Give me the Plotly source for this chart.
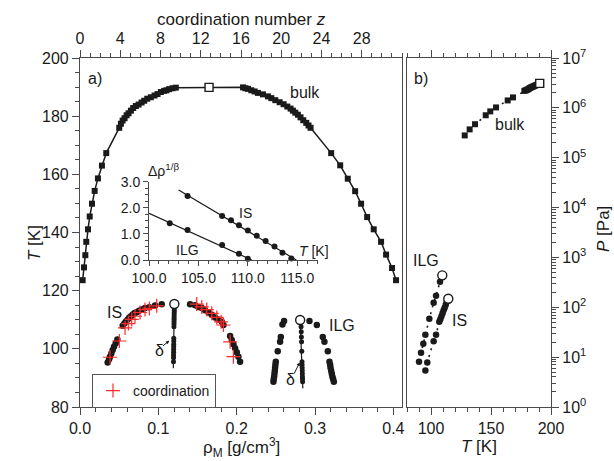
import plotly.graph_objects as go

# ---------------- panel a: bulk liquid-vapour coexistence ----------------
rho_bulk_left = [0.0034, 0.0051, 0.0068, 0.0080, 0.0102, 0.0124, 0.0153, 0.0187, 0.0229, 0.0280,
                 0.0335, 0.0501, 0.0522, 0.0544, 0.0569, 0.0595, 0.0620, 0.0650, 0.0679, 0.0713,
                 0.0748, 0.0786, 0.0820, 0.0858, 0.0904, 0.0951, 0.0990, 0.1032, 0.1074, 0.1104,
                 0.1138, 0.1181, 0.1223]
T_bulk_left = [123.6, 128.0, 132.2, 136.8, 141.1, 145.5, 149.9, 154.3, 158.6, 163.0,
               167.3, 176.0, 177.4, 178.5, 179.3, 180.3, 181.0, 181.9, 182.8, 183.5,
               184.0, 184.7, 185.3, 186.0, 186.5, 187.1, 187.6, 188.3, 188.7, 188.9,
               189.3, 189.6, 189.8]
rho_bulk_right = [0.2081, 0.2111, 0.2144, 0.2187, 0.2229, 0.2271, 0.2335, 0.2399, 0.2442, 0.2493,
                  0.2548, 0.2599, 0.2646, 0.2688, 0.2718, 0.2748, 0.2781, 0.2815, 0.2850, 0.2888,
                  0.2917, 0.2943, 0.3206, 0.3321, 0.3418, 0.3512, 0.3588, 0.3665, 0.3749, 0.3843,
                  0.3907, 0.3983, 0.4034]
T_bulk_right = [189.9, 189.6, 189.4, 188.9, 188.5, 188.0, 187.5, 186.8, 186.2, 185.5,
                184.8, 184.1, 183.3, 182.6, 181.9, 181.2, 180.5, 179.6, 178.6, 177.7,
                176.8, 176.0, 167.3, 163.1, 158.5, 154.2, 149.9, 145.3, 141.1, 136.8,
                132.4, 127.8, 123.6]
rho_bulk_crit = [0.1647]
T_bulk_crit = [189.9]

# ---------------- panel a: IS coexistence ----------------
rho_is_left = [0.0353, 0.0371, 0.0383, 0.0400, 0.0417, 0.0434, 0.0456, 0.0477,
               0.0545, 0.0566, 0.0587, 0.0609, 0.0630, 0.0651, 0.0673, 0.0698, 0.0724,
               0.0754, 0.0788, 0.0830, 0.0885, 0.0958, 0.1043]
T_is_left = [95.3, 96.4, 97.3, 98.4, 99.6, 100.7, 101.9, 103.2,
             107.9, 108.7, 109.4, 110.1, 110.8, 111.2, 111.8, 112.3, 112.6,
             113.1, 113.5, 114.0, 114.3, 114.9, 115.3]
rho_is_right = [0.1405, 0.1469, 0.1511, 0.1554, 0.1596, 0.1639, 0.1682, 0.1724, 0.1767,
                0.1810, 0.1831, 0.1916, 0.1937, 0.1958, 0.1980, 0.2001, 0.2022, 0.2043]
T_is_right = [115.3, 115.0, 114.4, 114.0, 113.3, 112.5, 111.7, 110.8, 110.1,
              109.3, 108.2, 104.4, 103.0, 101.6, 100.2, 98.8, 97.3, 95.6]
rho_is_diam = [0.1203, 0.1203, 0.1202, 0.1202, 0.1201, 0.1201, 0.1200, 0.1200, 0.1199,
               0.1197, 0.1197, 0.1196, 0.1196, 0.1195, 0.1195, 0.1194, 0.1194, 0.1193]
T_is_diam = [113.9, 113.1, 112.4, 111.6, 110.8, 110.1, 109.3, 108.5, 107.6,
             103.6, 102.7, 101.6, 100.7, 99.8, 98.8, 97.9, 96.9, 95.6]
rho_is_diam_line = [0.1204, 0.1191]
T_is_diam_line = [115.4, 93.3]
rho_is_crit = [0.1204]
T_is_crit = [115.4]

# densities obtained from the coordination number
rho_coord = [0.0383, 0.0502, 0.0575, 0.0617, 0.0660, 0.0702, 0.0766, 0.0830, 0.0885, 0.0979,
             0.1490, 0.1554, 0.1618, 0.1682, 0.1746, 0.1801, 0.1831, 0.1916, 0.1958]
T_coord = [97.1, 102.7, 107.2, 108.7, 110.1, 111.2, 112.5, 113.5, 113.9, 114.8,
           115.4, 114.4, 113.5, 112.2, 110.8, 109.3, 108.2, 102.4, 97.3]

# ---------------- panel a: ILG coexistence ----------------
rho_ilg_left = [0.2469, 0.2473, 0.2478, 0.2482, 0.2486, 0.2490, 0.2494, 0.2499, 0.2524,
                0.2554, 0.2563, 0.2584, 0.2605]
T_ilg_left = [88.7, 89.6, 90.4, 91.4, 92.5, 93.5, 94.5, 95.6, 99.2, 102.4, 104.1, 108.4, 109.6]
rho_ilg_right = [0.2929, 0.3023, 0.3099, 0.3120, 0.3163, 0.3184, 0.3193, 0.3198, 0.3206,
                 0.3214, 0.3222, 0.3231, 0.3240]
T_ilg_right = [109.6, 108.2, 104.1, 102.4, 99.2, 95.6, 94.5, 93.5, 92.5, 91.4, 90.4, 89.6, 88.7]
rho_ilg_diam = [0.2822, 0.2824, 0.2826, 0.2828, 0.2831, 0.2834, 0.2835, 0.2836, 0.2837,
                0.2838, 0.2839, 0.2840, 0.2841]
T_ilg_diam = [107.6, 105.9, 104.1, 102.4, 99.2, 95.6, 94.5, 93.5, 92.5, 91.4, 90.4, 89.6, 88.7]
rho_ilg_diam_line = [0.2810, 0.2844]
T_ilg_diam_line = [109.9, 86.4]
rho_ilg_crit = [0.2810]
T_ilg_crit = [109.9]

# ---------------- inset: order parameter scaling ----------------
T_ins_ilg = [102.1, 103.9, 107.4, 109.1, 110.0]
d_ins_ilg = [1.41, 1.15, 0.57, 0.24, 0.05]
T_ins_is = [103.9, 107.4, 108.3, 109.1, 110.0, 110.9, 111.8, 112.7, 113.5, 114.4]
d_ins_is = [2.45, 1.69, 1.52, 1.33, 1.13, 0.93, 0.73, 0.52, 0.28, 0.06]
T_fit_ilg = [100.0, 110.4]
d_fit_ilg = [1.79, 0.0]
T_fit_is = [103.0, 114.9]
d_fit_is = [2.68, 0.0]

# ---------------- panel b: vapour pressure ----------------
T_p_bulk = [128.1, 132.2, 136.7, 145.6, 149.4, 154.2, 163.9, 168.3, 177.8, 178.9,
            179.8, 180.7, 181.6, 182.5, 183.4, 184.3, 185.2, 186.1, 187.0, 187.9, 188.9]
P_bulk = [2.8e5, 3.7e5, 4.7e5, 7.1e5, 8.5e5, 1.02e6, 1.41e6, 1.62e6, 2.19e6, 2.24e6,
          2.29e6, 2.35e6, 2.42e6, 2.51e6, 2.57e6, 2.63e6, 2.69e6, 2.75e6, 2.82e6, 2.88e6, 2.95e6]
T_p_bulk_crit = [190.6]
P_bulk_crit = [3.1e6]
T_p_ilg = [90.0, 91.7, 93.6, 95.3, 98.6, 102.2, 104.2, 107.5]
P_ilg = [8.1, 12.3, 18.6, 28.2, 58.9, 123.0, 170.0, 324.0]
T_p_ilg_crit = [109.4]
P_ilg_crit = [437.0]
T_p_is = [95.3, 96.9, 102.2, 104.2, 106.9, 107.8, 108.7, 109.6, 110.5, 111.4, 112.3, 113.1]
P_is = [5.4, 7.8, 20.9, 28.2, 51.3, 57.5, 66.1, 75.9, 87.1, 97.7, 112.0, 129.0]
T_p_is_crit = [114.4]
P_is_crit = [148.0]

# tick labels
z_ticks = [0, 4, 8, 12, 16, 20, 24, 28]
P_ticks = [1, 10, 100, 1e3, 1e4, 1e5, 1e6, 1e7]
P_tick_labels = ["10<sup>%d</sup>" % k for k in range(8)]
T_b_ticks = [100, 150, 200]

FONT = "Arial, Liberation Sans, sans-serif"
INK = "#1a1a1a"
AXC = "#4a4a4a"

fig = go.Figure()

def dots(x, y, xa="x", ya="y", size=6, sym="circle", name="", legend=False, color=INK):
    return go.Scatter(x=x, y=y, mode="markers", xaxis=xa, yaxis=ya, name=name,
                      showlegend=legend, cliponaxis=False,
                      marker=dict(symbol=sym, size=size, color=color, line=dict(width=0)))

def open_mark(x, y, sym, xa="x", ya="y", size=9):
    return go.Scatter(x=x, y=y, mode="markers", xaxis=xa, yaxis=ya, showlegend=False,
                      cliponaxis=False,
                      marker=dict(symbol=sym, size=size, color="white",
                                  line=dict(color=INK, width=1.4)))

def line(x, y, xa="x", ya="y", width=1.3, dash="solid"):
    return go.Scatter(x=x, y=y, mode="lines", xaxis=xa, yaxis=ya, showlegend=False,
                      cliponaxis=False, line=dict(color=INK, width=width, dash=dash))

# bulk curve
fig.add_trace(line(rho_bulk_left + rho_bulk_crit + rho_bulk_right,
                   T_bulk_left + T_bulk_crit + T_bulk_right, width=1.5))
fig.add_trace(dots(rho_bulk_left + rho_bulk_right, T_bulk_left + T_bulk_right, size=6, sym="square"))
fig.add_trace(open_mark(rho_bulk_crit, T_bulk_crit, "square", size=8))

# IS
fig.add_trace(line(rho_is_diam_line, T_is_diam_line, width=1.2))
fig.add_trace(dots(rho_is_diam, T_is_diam, size=5))
fig.add_trace(dots(rho_is_left + rho_is_right, T_is_left + T_is_right, size=6.5))
fig.add_trace(go.Scatter(x=rho_coord, y=T_coord, mode="markers", name="coordination",
                         showlegend=True, cliponaxis=False,
                         marker=dict(symbol="cross-thin", size=10, color="#ff2a2a",
                                     line=dict(color="#ff2a2a", width=1.2))))
fig.add_trace(open_mark(rho_is_crit, T_is_crit, "circle", size=9))

# ILG
fig.add_trace(line(rho_ilg_diam_line, T_ilg_diam_line, width=1.2))
fig.add_trace(dots(rho_ilg_diam, T_ilg_diam, size=5))
fig.add_trace(dots(rho_ilg_left + rho_ilg_right, T_ilg_left + T_ilg_right, size=6.5))
fig.add_trace(open_mark(rho_ilg_crit, T_ilg_crit, "circle", size=9))

# invisible trace to activate the top coordination-number axis
fig.add_trace(go.Scatter(x=[0, 32], y=[None, None], xaxis="x3", yaxis="y",
                         mode="markers", showlegend=False, hoverinfo="skip"))

# inset
fig.add_trace(line(T_fit_ilg, d_fit_ilg, "x2", "y2", width=1.2))
fig.add_trace(line(T_fit_is, d_fit_is, "x2", "y2", width=1.2))
fig.add_trace(dots(T_ins_ilg, d_ins_ilg, "x2", "y2", size=6))
fig.add_trace(dots(T_ins_is, d_ins_is, "x2", "y2", size=6))

# panel b
DOT = "2px,5px"
fig.add_trace(line(T_p_bulk + T_p_bulk_crit, P_bulk + P_bulk_crit, "x4", "y4", width=1.6, dash=DOT))
fig.add_trace(dots(T_p_bulk, P_bulk, "x4", "y4", size=6, sym="square"))
fig.add_trace(open_mark(T_p_bulk_crit, P_bulk_crit, "square", "x4", "y4", size=8))
fig.add_trace(line(T_p_ilg + T_p_ilg_crit, P_ilg + P_ilg_crit, "x4", "y4", width=1.6, dash=DOT))
fig.add_trace(dots(T_p_ilg, P_ilg, "x4", "y4", size=6.5))
fig.add_trace(open_mark(T_p_ilg_crit, P_ilg_crit, "circle", "x4", "y4", size=9))
fig.add_trace(line(T_p_is + T_p_is_crit, P_is + P_is_crit, "x4", "y4", width=1.6, dash=DOT))
fig.add_trace(dots(T_p_is, P_is, "x4", "y4", size=6.5))
fig.add_trace(open_mark(T_p_is_crit, P_is_crit, "circle", "x4", "y4", size=9))

tickfont = dict(family=FONT, size=16, color=INK)
axis_common = dict(showgrid=False, zeroline=False, showline=True, linecolor=AXC, linewidth=1.2,
                   ticks="outside", ticklen=7, tickwidth=1, tickcolor=AXC, tickfont=tickfont,
                   automargin=False)
minor_common = dict(ticks="outside", ticklen=4, tickwidth=1, tickcolor=AXC, showgrid=False)

XA = [0.0, 322 / 471]
XB = [327 / 471, 1.0]

fig.update_layout(
    width=614, height=461,
    margin=dict(l=80, r=63, t=58, b=54, autoexpand=False),
    paper_bgcolor="white", plot_bgcolor="white",
    font=dict(family=FONT, color=INK),
    xaxis=dict(domain=XA, range=[0, 0.411], anchor="y", tickvals=[0, 0.1, 0.2, 0.3, 0.4],
               tickformat=".1f", minor=dict(dtick=0.02, tick0=0, **minor_common),
               **axis_common),
    yaxis=dict(domain=[0, 1], range=[80, 200], anchor="x", dtick=20, mirror=True,
               minor=dict(dtick=5, tick0=80, **minor_common),
               **axis_common),
    xaxis3=dict(overlaying="x", side="top", anchor="y", range=[0, 32], tickvals=z_ticks,
                minor=dict(dtick=1, tick0=0, **minor_common),
                **axis_common),
    xaxis2=dict(domain=[69 / 471, 238 / 471], range=[100, 117.1], anchor="y2",
                tickvals=[100, 105, 110, 115], tickformat=".1f",
                showgrid=False, zeroline=False, showline=True, linecolor=AXC, linewidth=1,
                ticks="outside", ticklen=5, tickwidth=1, tickcolor=AXC,
                tickfont=dict(family=FONT, size=14, color=INK),
                minor=dict(dtick=1, tick0=100, ticks="outside", ticklen=3, tickwidth=1,
                           tickcolor=AXC, showgrid=False)),
    yaxis2=dict(domain=[147 / 349, 225.3 / 349], range=[0, 3.0], anchor="x2",
                tickvals=[0, 1, 2, 3], tickformat=".1f",
                showgrid=False, zeroline=False, showline=True, linecolor=AXC, linewidth=1,
                ticks="outside", ticklen=5, tickwidth=1, tickcolor=AXC,
                tickfont=dict(family=FONT, size=14, color=INK),
                minor=dict(dtick=0.25, tick0=0, ticks="outside", ticklen=3, tickwidth=1,
                           tickcolor=AXC, showgrid=False)),
    xaxis4=dict(domain=XB, range=[80, 200], anchor="y4", tickvals=T_b_ticks, mirror="ticks",
                minor=dict(dtick=10, tick0=0, **minor_common),
                **axis_common),
    yaxis4=dict(domain=[0, 1], type="log", range=[0, 7], anchor="x4", side="right", mirror=True,
                tickvals=P_ticks, ticktext=P_tick_labels,
                minor=dict(dtick="D1", **minor_common),
                **axis_common),
    legend=dict(x=12 / 471, y=33 / 349, xanchor="left", yanchor="top",
                bordercolor="#555555", borderwidth=1, bgcolor="white",
                font=dict(family=FONT, size=14, color=INK), itemwidth=30, tracegroupgap=0),
)

def note(text, x, y, size=16, xanchor="center", yanchor="middle", xref="paper", yref="paper",
         angle=0):
    fig.add_annotation(text=text, x=x, y=y, xref=xref, yref=yref, showarrow=False,
                       xanchor=xanchor, yanchor=yanchor, textangle=angle,
                       font=dict(family=FONT, size=size, color=INK))

def px(xp):
    return (xp - 80) / 471

def py(yp):
    return (407 - yp) / 349

# axis titles
note("ρ<sub>M</sub> [g/cm<sup>3</sup>]", px(241), py(447), size=17)
note("<i>T</i> [K]", px(479), py(446), size=17)
note("coordination number <i>z</i>", px(241), py(19), size=17)
note("<i>T</i> [K]", px(34), py(243), size=17, angle=-90)
note("<i>P</i> [Pa]", px(603), py(229), size=17, angle=-90)

# panel and curve labels
note("a)", px(86), py(78), xanchor="left")
note("b)", px(412), py(78), xanchor="left")
note("bulk", px(305), py(92))
note("bulk", px(510), py(125))
note("IS", px(114), py(312))
note("ILG", px(341.5), py(325))
note("ILG", px(425.5), py(260))
note("IS", px(459), py(320))
note("IS", px(245), py(213), size=14)
note("ILG", px(187), py(249.5), size=14)
note("<i>T</i> [K]", px(331), py(251), size=14, xanchor="right")
note("Δρ<sup>1/β</sup>", px(146), py(170), size=14, xanchor="left")

# diameter labels with short arrows
note("δ", 0.1013, 99.6, xref="x", yref="y")
note("δ", 0.2691, 89.5, xref="x", yref="y")
for (x0, y0, x1, y1) in [(0.1040, 100.6, 0.1140, 102.8), (0.2724, 91.0, 0.2805, 95.3)]:
    fig.add_annotation(x=x1, y=y1, ax=x0, ay=y0, xref="x", yref="y", axref="x", ayref="y",
                       text="", showarrow=True, arrowhead=2, arrowsize=0.7, arrowwidth=1,
                       arrowcolor=INK, standoff=0, startstandoff=0)

fig.write_html("out.html")
